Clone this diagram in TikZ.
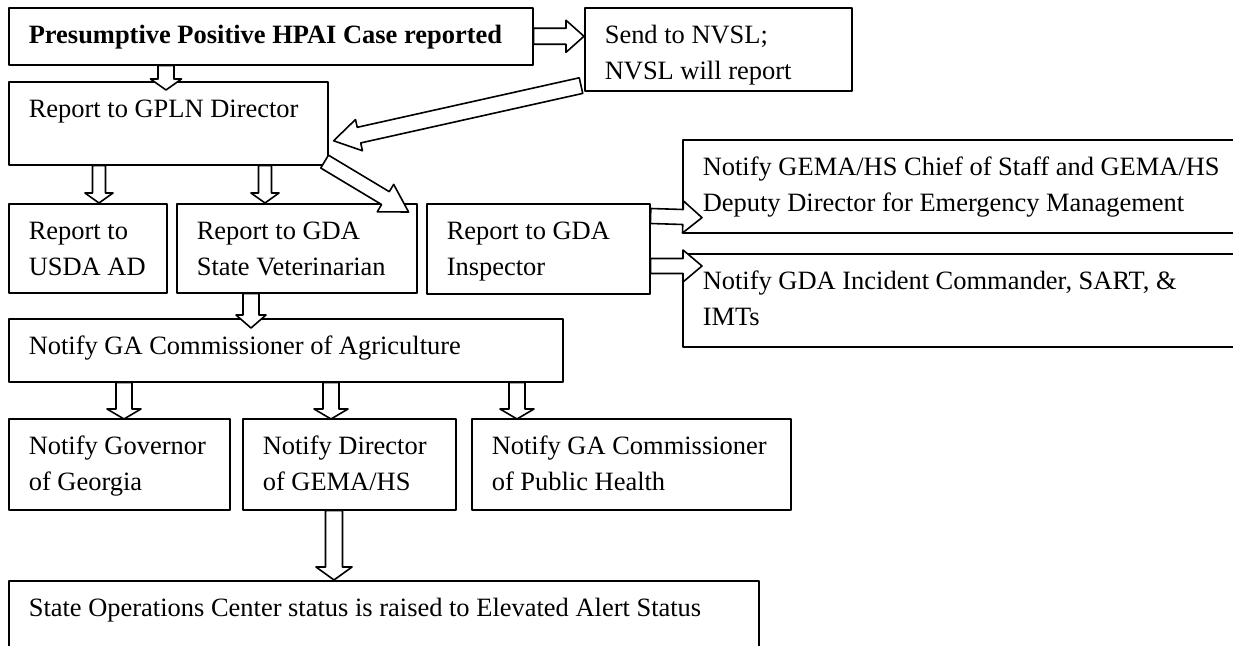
\documentclass[tikz,border=0pt]{standalone}
\usepackage{fontspec}
\setmainfont{Liberation Serif}
\usetikzlibrary{calc}
\newlength{\px}\setlength{\px}{0.5pt}
% text box: width, height (px), text set at the top left
\newcommand{\boxtext}[3]{\parbox[t][#2\px][t]{#1\px}{\vspace*{5.4pt}\leftskip=20\px\rightskip=0pt plus 1fil\strut #3}}
% block arrow: tail, tip, shaft half width, head half width, head length
\newcommand{\barrow}[5]{%
  \coordinate (nk) at ($(#2)!#5!(#1)$);
  \draw[blockarrow] ($(#1)!#3!90:(#2)$) -- ($(nk)!#3!90:(#2)$) -- ($(nk)!#4!90:(#2)$) -- (#2)
    -- ($(nk)!#4!-90:(#2)$) -- ($(nk)!#3!-90:(#2)$) -- ($(#1)!#3!-90:(#2)$) -- cycle;}
\begin{document}
\begin{tikzpicture}[line cap=round,line join=round,x=0.5pt,y=-0.5pt,
  font=\fontsize{13.23}{18}\selectfont,
  box/.style={draw,line width=0.8pt,inner sep=0pt,anchor=north west},
  blockarrow/.style={draw,line width=0.8pt,fill=white}]
\useasboundingbox (0,0) rectangle (1233,646);
\clip (0,0) rectangle (1233,646);
\node[box] (caseA) at (8,7) {\boxtext{524}{57}{\textbf{Presumptive Positive HPAI Case reported}}};
\node[box] (send) at (584,7) {\boxtext{267}{83}{Send to NVSL;\\NVSL will report}};
\node[box] (gpln) at (8,81) {\boxtext{319}{83}{Report to GPLN Director}};
\node[box] (usda) at (8,203) {\boxtext{158}{89}{Report to\\USDA AD}};
\node[box] (stvet) at (176,203) {\boxtext{240}{89}{Report to GDA\\State Veterinarian}};
\node[box] (insp) at (426,203) {\boxtext{223}{90}{Report to GDA\\Inspector}};
\node[box] (gemachief) at (682,139) {\boxtext{570}{93}{Notify GEMA/HS Chief of Staff and GEMA/HS\\Deputy Director for Emergency Management}};
\node[box] (gdaic) at (682,253) {\boxtext{570}{93}{Notify GDA Incident Commander, SART, \&\\IMTs}};
\node[box] (agri) at (8,318) {\boxtext{554}{63}{Notify GA Commissioner of Agriculture}};
\node[box] (gov) at (8,418) {\boxtext{221}{91}{Notify Governor\\of Georgia}};
\node[box] (gemahs) at (242,418) {\boxtext{213}{91}{Notify Director\\of GEMA/HS}};
\node[box] (pubh) at (471,418) {\boxtext{319}{91}{Notify GA Commissioner\\of Public Health}};
\node[box] (soc) at (8,580) {\boxtext{750}{80}{State Operations Center status is raised to Elevated Alert Status}};
% arrow ends
\coordinate (t1) at (caseA.east);
\coordinate (h1) at (caseA.east -| send.west);
\coordinate (t2) at ($(caseA.south west)+(158,0)$);
\coordinate (h2) at ($(gpln.north west)+(158,9)$);
\coordinate (t3) at ($(send.south west)+(-3,-6)$);
\coordinate (h3) at ($(gpln.east)+(5,17.5)$);
\coordinate (t4) at ($(gpln.south west)+(91,0)$);
\coordinate (h4) at ($(usda.north west)+(91,0)$);
\coordinate (t5) at ($(gpln.south west)+(257,0)$);
\coordinate (h5) at ($(stvet.north west)+(89,0)$);
\coordinate (t6) at ($(gpln.south east)+(-4,-4)$);
\coordinate (h6) at ($(stvet.north east)+(-9,9)$);
\coordinate (t7) at ($(stvet.south west)+(75,0)$);
\coordinate (h7) at ($(agri.north west)+(243,10)$);
\coordinate (t8) at ($(agri.south west)+(116,0)$);
\coordinate (h8) at ($(gov.north west)+(116,1)$);
\coordinate (t9) at ($(agri.south west)+(323,0)$);
\coordinate (h9) at ($(gemahs.north west)+(89,1)$);
\coordinate (t10) at ($(agri.south west)+(509,0)$);
\coordinate (h10) at ($(pubh.north west)+(46,1)$);
\coordinate (t11) at ($(gemahs.south west)+(92,0)$);
\coordinate (h11) at ($(soc.north west)+(326,0)$);
\coordinate (t12) at ($(insp.north east)+(0,13)$);
\coordinate (h12) at ($(gemachief.south west)+(20,-16)$);
\coordinate (t13) at ($(insp.north east)+(0,63)$);
\coordinate (h13) at ($(gdaic.north west)+(20,13)$);
\barrow{t1}{h1}{4pt}{8pt}{9pt}
\barrow{t2}{h2}{4pt}{7.75pt}{5.5pt}
\barrow{t3}{h3}{4pt}{8pt}{13pt}
\barrow{t4}{h4}{3.25pt}{7pt}{5pt}
\barrow{t5}{h5}{3.25pt}{7pt}{5pt}
\barrow{t6}{h6}{3.75pt}{8pt}{13.5pt}
\barrow{t7}{h7}{4pt}{7.5pt}{6.5pt}
\barrow{t8}{h8}{4pt}{8.5pt}{5pt}
\barrow{t9}{h9}{4pt}{8.5pt}{5pt}
\barrow{t10}{h10}{4pt}{8.5pt}{5pt}
\barrow{t11}{h11}{4.25pt}{9pt}{6.5pt}
\barrow{t12}{h12}{3.75pt}{8pt}{9.5pt}
\barrow{t13}{h13}{3.75pt}{8pt}{9.5pt}
\end{tikzpicture}
\end{document}
